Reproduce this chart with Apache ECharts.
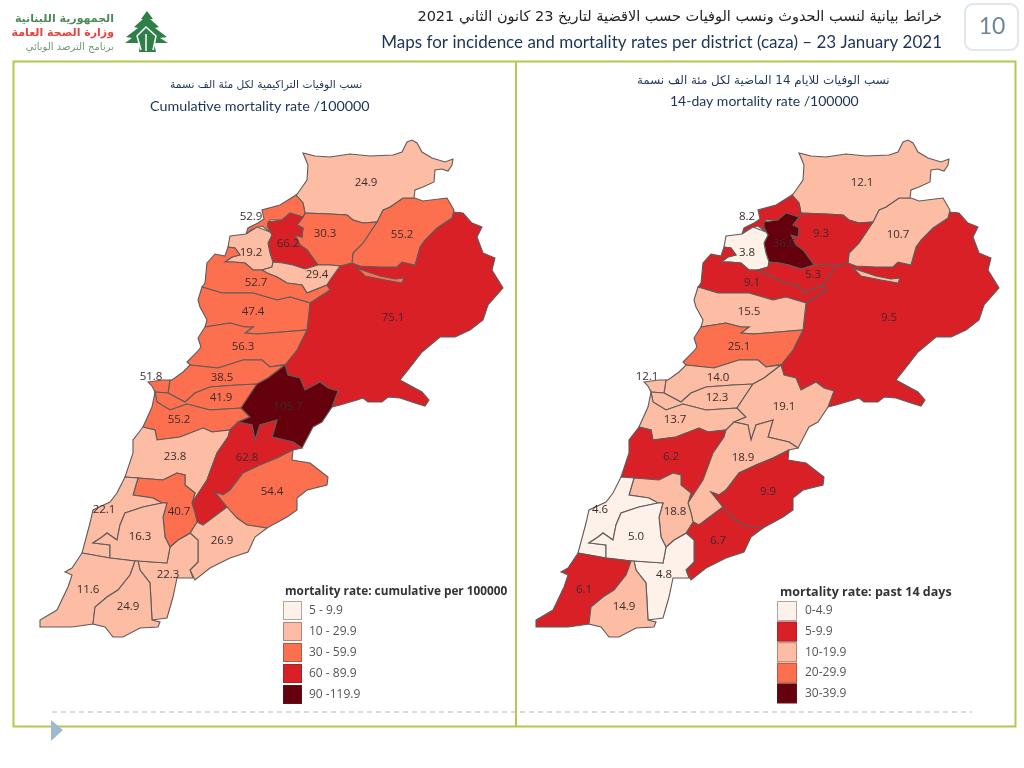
<!DOCTYPE html>
<html lang="en">
<head>
<meta charset="UTF-8">
<title>Mortality rates per caza</title>
<script src="https://cdn.jsdelivr.net/npm/echarts@6/dist/echarts.min.js"></script>
<style>
  html, body { margin: 0; padding: 0; background: #fff; }
  #main { width: 1024px; height: 768px; }
</style>
</head>
<body>
<div id="main"></div>
<script>
// values, same order as districts
const districts = ['Akkar', 'Minieh', 'Tripoli', 'Zgharta', 'Koura', 'Bcharre', 'Batroun', 'Jbeil', 'Kesrwan',
  'Metn', 'Beirut', 'Baabda', 'Aley', 'Chouf', 'Baalbek', 'Hermel', 'Zahle', 'WestBekaa', 'Rachaya', 'Jezzine',
  'Saida', 'Nabatieh', 'Hasbaya', 'Marjeyoun', 'Sour', 'BintJbeil'];
const cumulative = [24.9, 30.3, 52.9, 66.2, 19.2, 29.4, 52.7, 47.4, 56.3, 38.5, 51.8, 41.9, 55.2, 23.8, 75.1, 55.2,
  105.7, 62.8, 54.4, 40.7, 22.1, 16.3, 26.9, 22.3, 11.6, 24.9];
const past14 = [12.1, 9.3, 8.2, 36.6, 3.8, 5.3, 9.1, 15.5, 25.1, 14.0, 12.1, 12.3, 13.7, 6.2, 9.5, 10.7,
  19.1, 18.9, 9.9, 18.8, 4.6, 5.0, 6.7, 4.8, 6.1, 14.9];

const cumLabels = ['5 - 9.9', '10 - 29.9', '30 - 59.9', '60 - 89.9', '90 -119.9'];
const cumBreaks = [5, 10, 30, 60, 90, 120];
const cumColors = ['#fdf1ea', '#fdbda4', '#fc7050', '#da2027', '#65000d'];
const pastLabels = ['0-4.9', '5-9.9', '10-19.9', '20-29.9', '30-39.9'];
const pastBreaks = [0, 5, 10, 20, 30, 40];
const pastColors = ['#fdf1ea', '#da2027', '#fdbda4', '#fc7050', '#65000d'];

// district outlines, y is negated because geojson latitude goes up
const outlines = {
  Baalbek: [[[352,263],[360,266],[380,267],[397,267],[402,262],[415,265],[420,247],[425,240],[437,228],[452,218],[454,212],[463,213],[472,223],[482,227],[477,237],[483,253],[495,258],[492,270],[503,288],[488,305],[483,320],[470,330],[455,337],[440,337],[422,352],[408,370],[400,380],[422,392],[429,400],[425,406],[415,403],[400,398],[388,397],[382,402],[368,402],[363,398],[357,400],[340,405],[332,407],[338,391],[328,388],[320,382],[305,390],[300,378],[288,375],[285,365],[297,350],[307,330],[310,303],[330,290],[327,285],[330,280],[340,266]]],
  Hermel: [[[383,210],[390,207],[403,198],[415,198],[423,201],[447,198],[454,210],[452,218],[437,228],[425,240],[420,247],[415,265],[402,262],[397,267],[380,267],[360,266],[352,263],[353,253],[363,243],[377,222]],
    [[357,268],[365,276],[385,280],[402,283],[404,278],[395,279],[380,276],[362,270]]],
  Akkar: [[[303,153],[315,156],[330,157],[350,154],[370,156],[393,155],[402,152],[407,142],[412,140],[417,143],[422,152],[432,158],[445,162],[453,159],[452,165],[448,171],[442,169],[435,170],[434,182],[423,187],[415,190],[414,198],[403,198],[390,207],[383,210],[377,222],[363,223],[353,220],[347,215],[330,214],[305,213],[303,203],[296,195],[298,193],[307,180],[308,165]]],
  Minieh: [[[303,217],[305,213],[330,214],[347,215],[353,220],[363,223],[377,222],[363,243],[353,253],[352,263],[340,266],[330,265],[318,265],[307,250],[300,245],[295,235],[302,237],[303,228],[297,225]]],
  Tripoli: [[[296,195],[303,203],[305,213],[303,217],[290,213],[282,220],[270,220],[268,224],[268,227],[272,235],[270,232],[262,226],[253,229],[246,234],[248,228],[258,223],[264,219],[262,210],[280,205]]],
  Zgharta: [[[268,222],[282,220],[290,213],[303,217],[297,225],[303,228],[302,237],[295,235],[300,245],[307,250],[318,265],[305,269],[293,265],[283,263],[273,262],[270,253],[268,243],[272,235],[268,227]]],
  Koura: [[[230,236],[246,234],[257,227],[270,232],[272,235],[268,243],[270,253],[273,262],[272,267],[262,270],[253,270],[245,263],[233,262],[225,262],[232,257],[240,255],[235,248],[228,247]]],
  Bcharre: [[[272,267],[273,262],[283,263],[293,265],[305,269],[318,265],[330,265],[340,266],[330,280],[327,285],[307,293],[302,285],[287,283],[277,277],[267,273],[262,270]]],
  Batroun: [[[202,287],[205,283],[207,263],[215,254],[225,256],[228,247],[235,248],[240,255],[232,257],[225,262],[233,262],[245,263],[253,270],[262,270],[267,273],[277,277],[287,283],[302,285],[307,293],[327,285],[330,290],[310,303],[290,297],[277,300],[253,293],[222,293]]],
  Jbeil: [[[202,287],[222,293],[253,293],[277,300],[290,297],[310,303],[307,330],[270,333],[258,334],[245,333],[253,327],[245,327],[230,323],[205,327],[207,320],[200,307],[198,300]]],
  Kesrwan: [[[205,327],[230,323],[245,327],[253,327],[245,333],[258,334],[270,333],[307,330],[297,350],[285,365],[280,365],[270,367],[262,360],[243,360],[218,368],[190,365],[187,362],[197,352],[201,347],[198,338]]],
  Metn: [[[190,365],[218,368],[243,360],[262,360],[270,367],[285,365],[268,378],[257,384],[237,385],[210,387],[195,393],[185,402],[168,393],[170,380],[172,380],[183,372]]],
  Beirut: [[[148,382],[163,380],[170,380],[168,393],[155,392],[152,386]]],
  Baabda: [[[155,392],[168,393],[185,402],[195,393],[210,387],[237,385],[257,384],[241,408],[210,410],[187,404],[170,410],[157,402]]],
  Aley: [[[155,392],[157,402],[170,410],[187,404],[210,410],[241,408],[250,417],[238,422],[230,430],[212,432],[203,428],[180,437],[157,440],[155,430],[143,427],[152,407]]],
  Chouf: [[[143,427],[155,430],[157,440],[180,437],[203,428],[212,432],[230,430],[228,437],[217,453],[207,480],[192,503],[195,493],[185,485],[185,475],[177,473],[163,480],[138,478],[125,477],[133,453],[133,440]]],
  Zahle: [[[241,408],[257,384],[268,378],[285,365],[288,375],[300,378],[305,390],[320,382],[328,388],[338,391],[332,407],[322,422],[313,427],[302,448],[293,442],[272,437],[277,420],[260,425],[255,440],[252,425],[238,422],[250,417]]],
  WestBekaa: [[[238,422],[252,425],[255,440],[260,425],[277,420],[272,437],[293,442],[302,448],[293,450],[277,458],[260,465],[243,473],[230,490],[223,495],[215,492],[227,507],[203,525],[197,522],[195,513],[192,503],[207,480],[217,453],[228,437],[230,430]]],
  Rachaya: [[[293,450],[292,460],[310,463],[328,477],[327,485],[307,490],[297,498],[297,510],[287,517],[267,528],[247,525],[237,518],[227,507],[215,492],[223,495],[230,490],[243,473],[260,465],[277,458]]],
  Hasbaya: [[[227,507],[237,518],[247,525],[267,528],[255,537],[248,552],[230,558],[210,568],[195,580],[190,570],[198,562],[198,540],[190,533],[197,522],[203,525]]],
  Marjeyoun: [[[190,533],[198,540],[198,562],[190,570],[193,578],[177,578],[173,597],[167,618],[152,620],[150,583],[140,570],[138,561],[167,563],[170,547],[178,540],[187,535]]],
  Jezzine: [[[138,478],[163,480],[177,473],[185,475],[185,485],[195,493],[192,503],[195,513],[197,522],[190,533],[178,540],[170,547],[165,537],[163,517],[167,503],[162,503],[153,498],[133,495]]],
  Saida: [[[125,477],[138,478],[133,495],[153,498],[162,503],[143,507],[125,513],[120,525],[117,540],[107,533],[102,537],[93,543],[110,545],[110,558],[82,553],[90,523],[93,510],[110,502],[117,493]]],
  Nabatieh: [[[125,513],[143,507],[162,503],[167,503],[163,517],[165,537],[170,547],[167,563],[138,561],[135,561],[110,558],[110,545],[93,543],[102,537],[107,533],[117,540],[120,525]]],
  Sour: [[[82,553],[110,558],[135,561],[133,567],[130,575],[118,590],[107,597],[95,607],[93,624],[72,627],[40,627],[40,620],[57,610],[68,587],[72,575],[65,572],[72,568]]],
  BintJbeil: [[[135,561],[138,561],[140,570],[150,583],[152,620],[160,622],[158,627],[140,628],[123,637],[113,637],[105,627],[93,624],[95,607],[107,597],[118,590],[130,575],[133,567]]]
};
const labelAt = {
  Akkar: [366,183], Minieh: [325,234], Tripoli: [251,217], Zgharta: [288,244], Koura: [251,253], Bcharre: [317,275],
  Batroun: [256,283], Jbeil: [253,312], Kesrwan: [243,347], Metn: [222,378], Beirut: [151,377], Baabda: [221,398],
  Aley: [179,420], Chouf: [175,457], Baalbek: [393,318], Hermel: [402,235], Zahle: [288,407], WestBekaa: [247,458],
  Rachaya: [272,492], Jezzine: [179,512], Saida: [104,510], Nabatieh: [140,537], Hasbaya: [222,541],
  Marjeyoun: [168,575], Sour: [88,590], BintJbeil: [128,607]
};

const features = Object.keys(outlines).map(function (name) {
  return {
    type: 'Feature',
    properties: { name: name, cp: [labelAt[name][0], -labelAt[name][1]] },
    geometry: {
      type: 'MultiPolygon',
      coordinates: outlines[name].map(ring => [ring.map(p => [p[0], -p[1]])])
    }
  };
});
// two names, otherwise echarts adds up series that share a map
echarts.registerMap('lebanonCum', { type: 'FeatureCollection', features: features });
echarts.registerMap('lebanon14', { type: 'FeatureCollection', features: features });

function mapSeries(mapName, values, left) {
  return {
    type: 'map',
    map: mapName,
    aspectScale: 1,
    roam: false,
    silent: true,
    left: left,
    top: 140,
    width: 463,
    height: 497,
    selectedMode: false,
    itemStyle: { borderColor: '#5f5a58', borderWidth: 1.1 },
    label: {
      show: true,
      fontFamily: 'Open Sans',
      fontSize: 11.5,
      color: '#3d2b2b',
      formatter: p => p.value.toFixed(1)
    },
    data: districts.map((d, i) => ({ name: d, value: values[i] }))
  };
}

function legend(labels, breaks, colors, index, left, itemW, itemH, gap, textGap) {
  return {
    type: 'piecewise',
    seriesIndex: index,
    left: left,
    top: 601,
    orient: 'vertical',
    align: 'left',
    inverse: true,
    itemWidth: itemW,
    itemHeight: itemH,
    itemGap: gap,
    itemSymbol: 'rect',
    textGap: textGap,
    padding: 0,
    hoverLink: false,
    selectedMode: false,
    textStyle: { color: '#555', fontFamily: 'Open Sans', fontSize: 12 },
    pieces: labels.map((l, i) => ({ gt: breaks[i], lte: breaks[i + 1], label: l, color: colors[i] }))
  };
}

// visualMap swatches have no border option, so outline them on top
function swatchBorders(left, w, h, step) {
  return cumColors.map((c, i) => ({
    type: 'rect',
    z: 10,
    shape: { x: left + 0.5, y: 601.5 + i * step, width: w - 1, height: h - 1 },
    style: { fill: 'none', stroke: 'rgba(70,50,50,0.4)', lineWidth: 1 }
  }));
}

const navy = '#1c3456';
const option = {
  backgroundColor: '#fff',
  animation: false,
  title: [
    { text: 'خرائط بيانية لنسب الحدوث ونسب الوفيات حسب الاقضية لتاريخ 23 كانون الثاني 2021', right: 82, top: 10,
      padding: 0, textStyle: { fontFamily: 'DejaVu Sans', fontSize: 14.5, fontWeight: 'normal', color: '#222' } },
    { text: 'Maps for incidence and mortality rates per district (caza) – 23 January 2021', right: 82, top: 34,
      padding: 0, textStyle: { fontFamily: 'Lato', fontSize: 17, fontWeight: 'normal', color: navy } },
    { text: 'نسب الوفيات التراكيمية لكل مئة الف نسمة', left: 170, top: 80,
      padding: 0, textStyle: { fontFamily: 'DejaVu Sans', fontSize: 10.7, fontWeight: 'normal', color: navy } },
    { text: 'Cumulative mortality rate /100000', left: 150, top: 99,
      padding: 0, textStyle: { fontFamily: 'Lato', fontSize: 14.3, fontWeight: 'normal', color: navy } },
    { text: 'نسب الوفيات للايام 14 الماضية لكل مئة الف نسمة', left: 637, top: 75,
      padding: 0, textStyle: { fontFamily: 'DejaVu Sans', fontSize: 11.9, fontWeight: 'normal', color: navy } },
    { text: '14-day mortality rate /100000', left: 670, top: 94,
      padding: 0, textStyle: { fontFamily: 'Lato', fontSize: 14, fontWeight: 'normal', color: navy } },
    { text: 'mortality rate: cumulative per 100000', left: 285, top: 586,
      padding: 0, textStyle: { fontFamily: 'Open Sans', fontSize: 11.8, fontWeight: 'bold', color: '#333' } },
    { text: 'mortality rate: past 14 days', left: 780, top: 586,
      padding: 0, textStyle: { fontFamily: 'Open Sans', fontSize: 12.5, fontWeight: 'bold', color: '#333' } }
  ],
  visualMap: [
    legend(cumLabels, cumBreaks, cumColors, 0, 283, 19, 19, 2, 7),
    legend(pastLabels, pastBreaks, pastColors, 1, 777, 20, 20, 0.6, 8)
  ],
  series: [mapSeries('lebanonCum', cumulative, 40), mapSeries('lebanon14', past14, 536)],
  graphic: [
    // slide furniture: frame, divider, dashes, page number, logo
    { type: 'rect', shape: { x: 13.5, y: 61.5, width: 1002, height: 665 }, style: { fill: 'none', stroke: '#b2c94e', lineWidth: 2 } },
    { type: 'line', shape: { x1: 516, y1: 61, x2: 516, y2: 727 }, style: { stroke: '#b2c94e', lineWidth: 2 } },
    { type: 'line', shape: { x1: 52, y1: 712, x2: 972, y2: 712 }, style: { stroke: '#b5b5b5', lineWidth: 1, lineDash: [5, 4] } },
    { type: 'polygon', shape: { points: [[51, 720], [63, 730], [51, 741]] }, style: { fill: '#9fb8cf' } },
    { type: 'rect', shape: { x: 965, y: 4, width: 53, height: 46, r: 8 }, style: { fill: '#fff', stroke: '#e0e6ee', lineWidth: 2 } },
    { type: 'text', x: 992, y: 27, style: { text: '10', fontFamily: 'Lato', fontSize: 23, fill: '#6b8699', align: 'center', verticalAlign: 'middle' } },
    { type: 'text', x: 114, y: 19, style: { text: 'الجمهورية اللبنانية', fontFamily: 'DejaVu Sans', fontWeight: 'bold', fontSize: 11, fill: '#4e8a55', align: 'right', verticalAlign: 'middle' } },
    { type: 'text', x: 114, y: 33, style: { text: 'وزارة الصحة العامة', fontFamily: 'DejaVu Sans', fontWeight: 'bold', fontSize: 11, fill: '#e2443f', align: 'right', verticalAlign: 'middle' } },
    { type: 'text', x: 114, y: 47, style: { text: 'برنامج الترصد الوبائي', fontFamily: 'DejaVu Sans', fontSize: 10, fill: '#6f9a70', align: 'right', verticalAlign: 'middle' } },
    { type: 'polygon', shape: { points: [[147,11],[153,19],[150,19],[159,27],[155,28],[167,37],[160,38],[168,43],[154,43],[156,52],[139,52],[140,43],[125,43],[132,38],[126,37],[138,28],[134,27],[143,19],[141,19]] }, style: { fill: '#2f7f49' } },
    { type: 'polyline', shape: { points: [[141,50],[137,36],[146,27],[156,36],[153,50]] }, style: { fill: 'none', stroke: '#fff', lineWidth: 1.5 } },
    { type: 'polyline', shape: { points: [[146,51],[146,34]] }, style: { stroke: '#fff', lineWidth: 1.5 } }
  ].concat(swatchBorders(283, 19, 19, 21), swatchBorders(777, 20, 20, 20.6))
};

const chart = echarts.init(document.getElementById('main'), null, { renderer: 'canvas' });
chart.setOption(option);
</script>
</body>
</html>
